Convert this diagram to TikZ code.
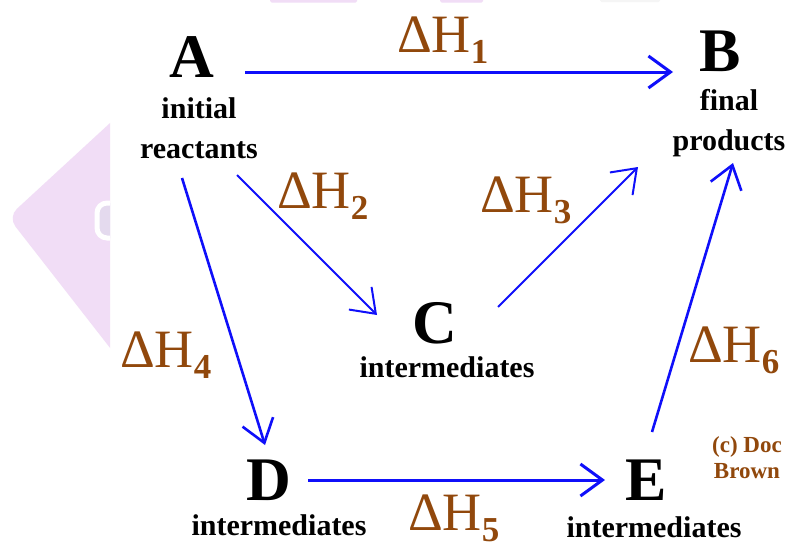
\documentclass[tikz,border=0pt]{standalone}
\usepackage{fontspec}
\setmainfont{Liberation Serif}
\usetikzlibrary{arrows.meta,positioning}
\definecolor{dhbrown}{RGB}{145,72,12}
\definecolor{arrblue}{RGB}{15,15,250}
\definecolor{wmark}{RGB}{241,221,246}
\definecolor{wmarkgray}{RGB}{228,218,238}
\newcommand{\dH}[1]{ΔH\raisebox{-11pt}{\fontsize{35}{35}\selectfont\bfseries #1}}
\tikzset{
  rxnarr/.style   = {-{Straight Barb[length=22pt,width=32pt]},arrblue,line width=2.5pt},
  statelbl/.style = {font=\fontsize{62}{62}\selectfont\bfseries,inner sep=0pt,anchor=base},
  statetxt/.style = {font=\fontsize{30}{40}\selectfont\bfseries,inner sep=0pt,align=center},
  dhlbl/.style    = {font=\fontsize{54}{54}\selectfont,dhbrown,inner sep=0pt,anchor=base west},
  credit/.style   = {font=\fontsize{23}{26}\selectfont\bfseries,dhbrown,inner sep=0pt,align=center,anchor=north}
}

\begin{document}
\begin{tikzpicture}[x=1pt,y=-1pt]
  \useasboundingbox (0,0) rectangle (793,546);
  \fill[white] (0,0) rectangle (793,546);
  \begin{scope}
    \clip (0,0) rectangle (110,546);
    \fill[wmark,rounded corners=12pt] (8,217) -- (160,77) -- (160,412) -- cycle;
    \draw[white,line width=5pt,fill=wmarkgray,rounded corners=10pt] (97,203) rectangle (150,238);
  \end{scope}
  \fill[wmark,rounded corners=1.5pt] (270,-2) rectangle (357,2.5);
  \fill[wmark,rounded corners=1.5pt] (440,-2) rectangle (483,2.5);
  \fill[gray!8,rounded corners=1.5pt] (600,-2) rectangle (660,2);

  \node[statelbl] (A) at (192,77)  {A};
  \node[statelbl] (B) at (720,71)  {B};
  \node[statelbl] (C) at (435,343) {C};
  \node[statelbl] (D) at (269,500) {D};
  \node[statelbl] (E) at (646,500) {E};
  \node[statetxt,below=20pt of A,xshift=7pt]  (Atxt) {initial\\reactants};
  \node[statetxt,below=18pt of B,xshift=9pt]  (Btxt) {final\\products};
  \node[statetxt,below=13pt of C,xshift=12pt] (Ctxt) {intermediates};
  \node[statetxt,below=14pt of D,xshift=10pt] (Dtxt) {intermediates};
  \node[statetxt,below=16pt of E,xshift=8pt]  (Etxt) {intermediates};

  \draw[rxnarr,line width=3pt]   ([shift={(53,-5)}]A.base)   -- ([shift={(-47,1)}]B.base);
  \draw[rxnarr,line width=2pt]   ([shift={(45,98)}]A.base)   -- ([shift={(-58,-28)}]C.base);
  \draw[rxnarr,line width=2.6pt] ([shift={(-10,101)}]A.base) -- ([shift={(-4,-55)}]D.base);
  \draw[rxnarr,line width=2pt]   ([shift={(63,-36)}]C.base)  -- ([shift={(-82,96)}]B.base);
  \draw[rxnarr,line width=3pt]   ([shift={(39,-20)}]D.base)  -- ([shift={(-41,-20)}]E.base);
  \draw[rxnarr,line width=2.6pt] ([shift={(6,-68)}]E.base)   -- ([shift={(13,92)}]B.base);

  \node[dhlbl] (dH1) at (397,52)  {\dH{1}};
  \node[dhlbl] (dH2) at (277,208) {\dH{2}};
  \node[dhlbl] (dH3) at (480,212) {\dH{3}};
  \node[dhlbl] (dH4) at (120,367) {\dH{4}};
  \node[dhlbl] (dH5) at (408,530) {\dH{5}};
  \node[dhlbl] (dH6) at (688,362) {\dH{6}};
  \node[credit] (doc) at (747,436) {(c) Doc\\Brown};
\end{tikzpicture}
\end{document}
